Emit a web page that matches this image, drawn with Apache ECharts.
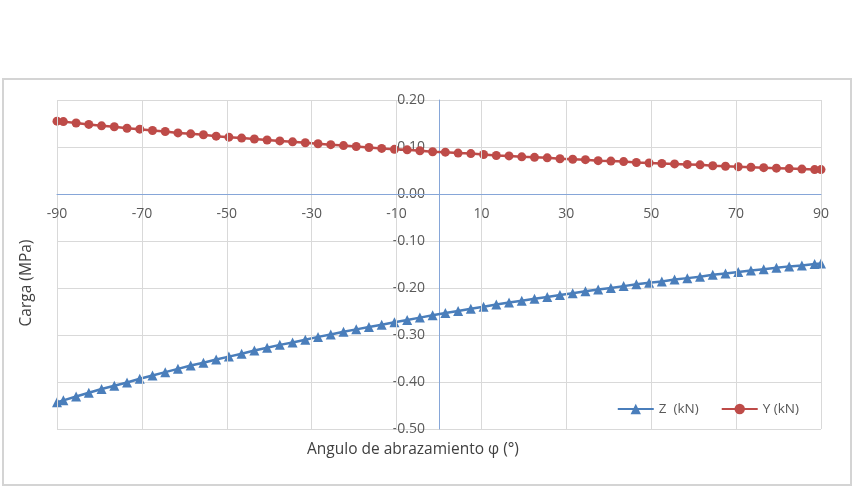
<!DOCTYPE html>
<html>
<head>
<meta charset="utf-8">
<title>Carga vs angulo de abrazamiento</title>
<script src="https://cdn.jsdelivr.net/npm/echarts@6/dist/echarts.min.js"></script>
<style>
    html, body { margin: 0; padding: 0; background: #fff; }
    #chart { width: 857px; height: 488px; }
</style>
</head>
<body>
<div id="chart"></div>
<script>
// ---
// data
// ---
var angles = [-90, -88.5, -85.5, -82.5, -79.5, -76.5, -73.5, -70.5, -67.5, -64.5,
    -61.5, -58.5, -55.5, -52.5, -49.5, -46.5, -43.5, -40.5, -37.5, -34.5,
    -31.5, -28.5, -25.5, -22.5, -19.5, -16.5, -13.5, -10.5, -7.5, -4.5,
    -1.5, 1.5, 4.5, 7.5, 10.5, 13.5, 16.5, 19.5, 22.5, 25.5,
    28.5, 31.5, 34.5, 37.5, 40.5, 43.5, 46.5, 49.5, 52.5, 55.5,
    58.5, 61.5, 64.5, 67.5, 70.5, 73.5, 76.5, 79.5, 82.5, 85.5,
    88.5, 90];

var zValues = [-0.443, -0.439, -0.431, -0.423, -0.415, -0.408, -0.401, -0.393, -0.386, -0.379,
    -0.372, -0.365, -0.359, -0.352, -0.346, -0.340, -0.333, -0.327, -0.321, -0.316,
    -0.310, -0.304, -0.299, -0.293, -0.288, -0.283, -0.278, -0.273, -0.268, -0.263,
    -0.258, -0.253, -0.249, -0.244, -0.240, -0.235, -0.231, -0.227, -0.223, -0.219,
    -0.215, -0.211, -0.207, -0.203, -0.200, -0.196, -0.192, -0.189, -0.186, -0.182,
    -0.179, -0.176, -0.172, -0.169, -0.166, -0.163, -0.160, -0.157, -0.154, -0.152,
    -0.149, -0.148];

var yValues = [0.155, 0.154, 0.151, 0.148, 0.145, 0.143, 0.140, 0.138, 0.135, 0.133,
    0.130, 0.128, 0.126, 0.123, 0.121, 0.119, 0.117, 0.115, 0.113, 0.111,
    0.109, 0.107, 0.105, 0.103, 0.101, 0.099, 0.097, 0.095, 0.094, 0.092,
    0.090, 0.089, 0.087, 0.086, 0.084, 0.082, 0.081, 0.079, 0.078, 0.077,
    0.075, 0.074, 0.073, 0.071, 0.070, 0.069, 0.067, 0.066, 0.065, 0.064,
    0.063, 0.062, 0.060, 0.059, 0.058, 0.057, 0.056, 0.055, 0.054, 0.053,
    0.052, 0.052];

var seriesNames = ['Z  (kN)', 'Y (kN)'];
var xTitle = 'Angulo de abrazamiento \u03c6 (\u00b0)';
var yTitle = 'Carga (MPa)';

// x ticks in the picture are -90, -70 ... 90 (step 20 from -90)
var xMin = -90;
var xMax = 90;
var xStep = 20;
var yMin = -0.5;
var yMax = 0.2;
var yStep = 0.1;

// ///////////////////////////////////////////
// layout (px)
var gridLeft = 57, gridRight = 36, gridTop = 100, gridBottom = 59;
var W = 857, H = 488;
var gridW = W - gridLeft - gridRight;
var gridH = H - gridTop - gridBottom;
// axes cross at x = 0 / y = 0 -> push them inside the grid
var xAxisOffset = -gridH * (0 - yMin) / (yMax - yMin);
var yAxisOffset = -gridW * (0 - xMin) / (xMax - xMin);

function pairs(xs, ys) {
    var out = [];
    for (var i = 0; i < xs.length; i++) {
        out.push([xs[i], ys[i]]);
    }
    return out;
}

var FONT = '"Open Sans", "Liberation Sans", sans-serif';
var labelColor = '#595959';
var gridColor = '#d9d9d9';
var axisColor = '#86a6d8';

var chart = echarts.init(document.getElementById('chart'), null, {renderer: 'canvas'});

chart.setOption({
    animation: false,
    backgroundColor: '#fff',
    grid: {left: gridLeft, right: gridRight, top: gridTop, bottom: gridBottom},
    legend: {
        data: seriesNames,
        right: 58,
        top: 402,
        padding: 0,
        itemWidth: 36,
        itemHeight: 13,
        itemGap: 22,
        textStyle: {fontFamily: FONT, fontSize: 13.5, color: labelColor}
    },
    xAxis: [
        // real angle axis, carries the data
        {
            type: 'value',
            min: xMin,
            max: xMax,
            position: 'bottom',
            show: false,
            axisLine: {onZero: false}
        },
        // shifted axis, only so ticks start at -90 (ticks counted from min = 0)
        {
            type: 'value',
            min: 0,
            max: xMax - xMin,
            interval: xStep,
            position: 'bottom',
            offset: xAxisOffset,
            z: 4,
            axisLine: {onZero: false, lineStyle: {color: axisColor, width: 1}},
            axisTick: {show: false},
            axisLabel: {
                margin: 13,
                fontFamily: FONT,
                fontSize: 14,
                color: labelColor,
                formatter: function (v) { return String(v + xMin); }
            },
            splitLine: {show: true, lineStyle: {color: gridColor, width: 1}}
        }
    ],
    yAxis: {
        type: 'value',
        min: yMin,
        max: yMax,
        interval: yStep,
        position: 'left',
        offset: yAxisOffset,
        z: 3,
        axisLine: {show: true, onZero: false, lineStyle: {color: axisColor, width: 1}},
        axisTick: {show: false},
        axisLabel: {
            margin: 14,
            fontFamily: FONT,
            fontSize: 14,
            color: labelColor,
            formatter: function (v) { return v.toFixed(2); }
        },
        splitLine: {show: true, lineStyle: {color: gridColor, width: 1}}
    },
    series: [
        {
            name: seriesNames[0],
            type: 'line',
            xAxisIndex: 0,
            data: pairs(angles, zValues),
            symbol: 'triangle',
            symbolSize: 10,
            showSymbol: true,
            lineStyle: {color: '#4a7ebb', width: 2.5},
            itemStyle: {color: '#4a7ebb'}
        },
        {
            name: seriesNames[1],
            type: 'line',
            xAxisIndex: 0,
            data: pairs(angles, yValues),
            symbol: 'circle',
            symbolSize: 9,
            showSymbol: true,
            lineStyle: {color: '#be4b48', width: 2.5},
            itemStyle: {color: '#be4b48'}
        }
    ],
    graphic: [
        // chart frame
        {
            type: 'rect',
            shape: {x: 3, y: 79, width: 848, height: 406},
            style: {fill: 'none', stroke: '#d4d4d4', lineWidth: 2},
            z: 0
        },
        {
            type: 'text',
            x: 413,
            y: 450,
            style: {text: xTitle, font: '15.5px ' + FONT, fill: '#404040', align: 'center', verticalAlign: 'middle'}
        },
        {
            type: 'text',
            x: 27,
            y: 283,
            rotation: Math.PI / 2,
            style: {text: yTitle, font: '15.5px ' + FONT, fill: '#404040', align: 'center', verticalAlign: 'middle'}
        }
    ]
});
</script>
</body>
</html>
